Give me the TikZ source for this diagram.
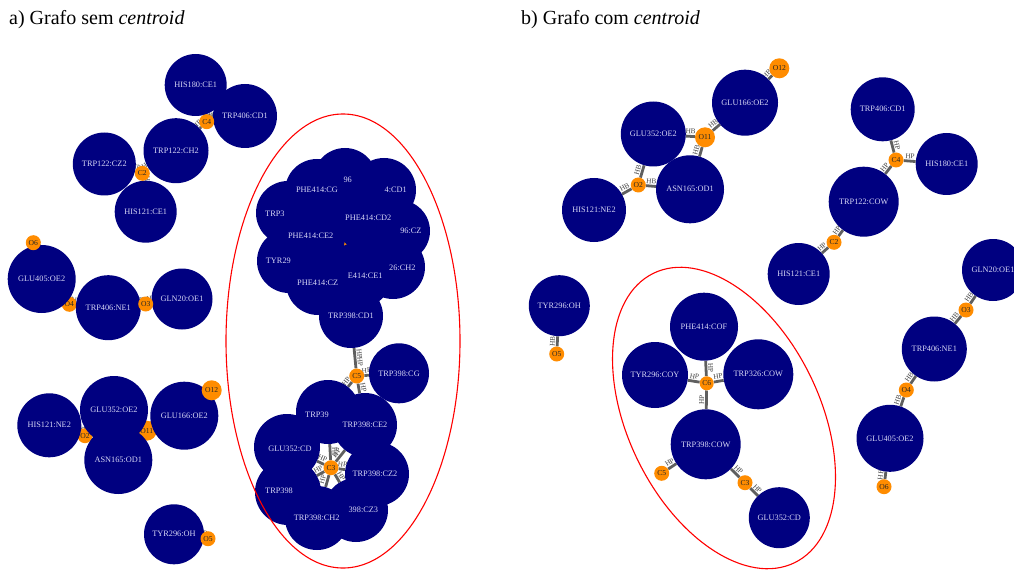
\documentclass[tikz,border=0pt]{standalone}
\usepackage{fontspec}
\setmainfont{Liberation Serif}
\pgfdeclarelayer{edgelayer}
\pgfdeclarelayer{under}
\pgfdeclarelayer{over}
\pgfsetlayers{edgelayer,under,main,over}
\definecolor{atomblue}{RGB}{0,0,128}
\definecolor{pseudo}{RGB}{255,140,0}
\definecolor{atomtext}{RGB}{215,215,245}
\definecolor{bondgray}{RGB}{95,95,95}
\definecolor{ringred}{RGB}{255,0,0}
\tikzset{
  atom/.style={circle, fill=atomblue, inner sep=0pt, text=atomtext,
    font=\fontsize{8.3}{9}\selectfont},
  pc/.style={circle, fill=pseudo, inner sep=0pt, minimum size=15,
    font=\fontsize{7.6}{8}\selectfont, text=black!85},
  pcbig/.style={pc, minimum size=20},
  bond/.style={draw=bondgray, line width=2.8pt},
  blab/.style={font=\fontsize{7.2}{7.2}\selectfont, text=black!75, sloped, above, inner sep=1pt},
  frag/.style={text=atomtext, font=\fontsize{8.3}{9}\selectfont, inner sep=0pt},
  cluster/.style={draw=ringred, line width=1.1pt},
  title/.style={anchor=base west, inner sep=0pt, font=\fontsize{20}{22}\selectfont},
}
\begin{document}
\begin{tikzpicture}[x=1pt,y=-1pt]
\useasboundingbox (0,0) rectangle (1014,572);

% titles
\node[title] (titleA) at (9,25) {a) Grafo sem \textit{centroid}};
\node[title] (titleB) at (521,25) {b) Grafo com \textit{centroid}};

% ================= panel a =================
\begin{pgfonlayer}{under}
  \node[pc] (a-o4) at (69.3,304.3) {O4};
  \node[pc] (a-o2) at (85,435.7) {O2};
  \node[pcbig] (a-o11) at (146.7,430.7) {O11};
  \node[pc, minimum size=16] (a-c6) at (343,245) {};
\end{pgfonlayer}

\node[atom, minimum size=62] (a-his180) at (195.7,85) {HIS180:CE1};
\node[atom, minimum size=64] (a-trp406cd1) at (245,116) {TRP406:CD1};
\node[atom, minimum size=65] (a-trp122ch2) at (176,150.7) {TRP122:CH2};
\node[atom, minimum size=63] (a-trp122cz2) at (104.3,164) {TRP122:CZ2};
\node[atom, minimum size=62] (a-his121ce1) at (145.7,211.7) {HIS121:CE1};
\node[atom, minimum size=68] (a-glu405) at (41.7,279) {GLU405:OE2};
\node[atom, minimum size=65] (a-trp406ne1) at (108.3,307.7) {TRP406:NE1};
\node[atom, minimum size=61] (a-gln20) at (182,299) {GLN20:OE1};
\node[atom, minimum size=64] (a-his121ne2) at (49.3,425.3) {HIS121:NE2};
\node[atom, minimum size=68] (a-glu352oe2) at (114,410) {GLU352:OE2};
\node[atom, minimum size=68] (a-asn165) at (118.3,460) {ASN165:OD1};
\node[atom, minimum size=68] (a-glu166) at (184.3,415.7) {GLU166:OE2};
\node[atom, minimum size=60] (a-tyr296oh) at (174,534.3) {TYR296:OH};

% aromatic cluster around the hidden centroid C6
\node[atom, minimum size=64] (a-b1) at (317,191) {};
\node[atom, minimum size=64] (a-b2) at (345,180) {};
\node[atom, minimum size=64] (a-b3) at (384,190) {};
\node[atom, minimum size=64] (a-b4) at (288,213) {};
\node[atom, minimum size=66] (a-b5) at (368,219) {};
\node[atom, minimum size=62] (a-b6) at (399,231) {};
\node[atom, minimum size=66] (a-b7) at (312,237) {};
\node[atom, minimum size=64] (a-b8) at (289,261) {};
\node[atom, minimum size=64] (a-b9) at (393,267) {};
\node[atom, minimum size=66] (a-b10) at (359,275) {};
\node[atom, minimum size=64] (a-b11) at (318,283) {};
\node[atom, minimum size=64] (a-b12) at (351,316) {};
\node[atom, minimum size=60] (a-trp398cg) at (399,373.3) {TRP398:CG};

% TRP398 ring cluster around C3
\node[atom, minimum size=64] (a-l1) at (328,412) {};
\node[atom, minimum size=64] (a-l2) at (365,425) {};
\node[atom, minimum size=66] (a-l3) at (287,447) {};
\node[atom, minimum size=64] (a-l4) at (377,474) {};
\node[atom, minimum size=66] (a-l5) at (288,492) {};
\node[atom, minimum size=64] (a-l6) at (356,510) {};
\node[atom, minimum size=64] (a-l7) at (317,518) {};

\begin{pgfonlayer}{over}
  \node[pc] (a-c4) at (206.7,121.7) {C4};
  \node[pc] (a-c2) at (142.3,173.3) {C2};
  \node[pc] (a-o6) at (33.3,242.7) {O6};
  \node[pc] (a-o3) at (145.7,304) {O3};
  \node[pcbig] (a-o12) at (211.7,390.3) {O12};
  \node[pc] (a-o5) at (208,538.7) {O5};
  \node[pc] (a-c5) at (356.7,376) {C5};
  \node[pc] (a-c3) at (331,467.7) {C3};
  % labels left visible between overlapping atoms
  \node[frag] (f1) at (317,190) {PHE414:CG};
  \node[frag] (f2) at (347.7,179.5) {96};
  \node[frag, anchor=east] (f3) at (407,190) {4:CD1};
  \node[frag, anchor=west] (f4) at (265,213.3) {TRP3};
  \node[frag] (f5) at (368.3,218.3) {PHE414:CD2};
  \node[frag, anchor=east] (f6) at (421.7,230.7) {96:CZ};
  \node[frag] (f7) at (310.7,235.7) {PHE414:CE2};
  \node[frag, anchor=west] (f8) at (265.7,260.7) {TYR29};
  \node[frag, anchor=east] (f9) at (415.7,267.7) {26:CH2};
  \node[frag, anchor=east] (f10) at (382.7,276) {E414:CE1};
  \node[frag] (f11) at (317.7,283.3) {PHE414:CZ};
  \node[frag] (f12) at (351,315.7) {TRP398:CD1};
  \node[frag, anchor=west] (f13) at (305,414.3) {TRP39};
  \node[frag] (f14) at (365,425) {TRP398:CE2};
  \node[frag] (f15) at (290,449) {GLU352:CD};
  \node[frag] (f16) at (375,473.3) {TRP398:CZ2};
  \node[frag, anchor=west] (f17) at (265,490.7) {TRP398};
  \node[frag, anchor=east] (f18) at (378.3,510) {398:CZ3};
  \node[frag] (f19) at (316.7,517.3) {TRP398:CH2};
\end{pgfonlayer}

\draw[cluster] (343,341) ellipse [x radius=117, y radius=227];

\begin{pgfonlayer}{edgelayer}
  \draw[bond] (a-c4) -- node[blab]{HP} (a-his180);
  \draw[bond] (a-c4) -- node[blab]{HP} (a-trp406cd1);
  \draw[bond] (a-c4) -- node[blab]{HP} (a-trp122ch2);
  \draw[bond] (a-c2) -- node[blab]{HP} (a-trp122cz2);
  \draw[bond] (a-c2) -- node[blab]{HP} (a-trp122ch2);
  \draw[bond] (a-c2) -- node[blab]{HP} (a-his121ce1);
  \draw[bond] (a-o6) -- node[blab]{HB} (a-glu405);
  \draw[bond] (a-o4) -- node[blab]{HB} (a-glu405);
  \draw[bond] (a-o4) -- node[blab]{HB} (a-trp406ne1);
  \draw[bond] (a-o3) -- node[blab]{HB} (a-trp406ne1);
  \draw[bond] (a-o3) -- node[blab]{HB} (a-gln20);
  \draw[bond] (a-o2) -- node[blab]{HB} (a-his121ne2);
  \draw[bond] (a-o2) -- node[blab]{HB} (a-glu352oe2);
  \draw[bond] (a-o2) -- node[blab]{HB} (a-asn165);
  \draw[bond] (a-o11) -- node[blab]{HB} (a-glu352oe2);
  \draw[bond] (a-o11) -- node[blab]{HB} (a-asn165);
  \draw[bond] (a-o11) -- node[blab]{HB} (a-glu166);
  \draw[bond] (a-o12) -- node[blab]{HB} (a-glu166);
  \draw[bond] (a-o5) -- node[blab]{HB} (a-tyr296oh);
  \draw[bond] (a-c5) -- node[blab, pos=0.3]{HP} node[blab, pos=0.7]{HP} (a-b12);
  \draw[bond] (a-c5) -- node[blab]{HP} (a-trp398cg);
  \draw[bond] (a-c5) -- node[blab]{HP} (a-l2);
  \draw[bond] (a-c5) -- node[blab]{HP} (a-l1);
  \foreach \n in {1,...,7}
    \draw[bond] (a-c3) -- node[blab]{HP} (a-l\n);
\end{pgfonlayer}

% ================= panel b =================
\node[atom, minimum size=66] (b-glu166) at (745,102.7) {GLU166:OE2};
\node[atom, minimum size=65] (b-glu352oe2) at (653.3,134) {GLU352:OE2};
\node[atom, minimum size=68] (b-asn165) at (690,189.3) {ASN165:OD1};
\node[atom, minimum size=64] (b-his121ne2) at (594,210) {HIS121:NE2};
\node[atom, minimum size=64] (b-trp406cd1) at (882.7,109.3) {TRP406:CD1};
\node[atom, minimum size=62] (b-his180) at (946.7,164) {HIS180:CE1};
\node[atom, minimum size=70] (b-trp122cow) at (863.7,201.7) {TRP122:COW};
\node[atom, minimum size=62] (b-his121ce1) at (798.7,274) {HIS121:CE1};
\node[atom, minimum size=62] (b-gln20) at (993,270) {GLN20:OE1};
\node[atom, minimum size=65] (b-trp406ne1) at (934.3,349) {TRP406:NE1};
\node[atom, minimum size=67] (b-glu405) at (890,438.3) {GLU405:OE2};
\node[atom, minimum size=61] (b-tyr296oh) at (559.3,305.7) {TYR296:OH};
\node[atom, minimum size=68] (b-phe414) at (704,326.7) {PHE414:COF};
\node[atom, minimum size=66] (b-tyr296coy) at (655,375) {TYR296:COY};
\node[atom, minimum size=70] (b-trp326) at (758.3,374.3) {TRP326:COW};
\node[atom, minimum size=70] (b-trp398) at (705.7,444.3) {TRP398:COW};
\node[atom, minimum size=61] (b-glu352cd) at (779.3,517.7) {GLU352:CD};

\node[pcbig] (b-o12) at (779.3,68.3) {O12};
\node[pcbig] (b-o11) at (705,137.3) {O11};
\node[pc] (b-o2) at (638.3,185) {O2};
\node[pc] (b-c4) at (896,160) {C4};
\node[pc] (b-c2) at (834,242.3) {C2};
\node[pc] (b-o3) at (966,310) {O3};
\node[pc] (b-o4) at (906.3,390) {O4};
\node[pc] (b-o6) at (884,486.7) {O6};
\node[pc] (b-o5) at (556.7,354) {O5};
\node[pc, minimum size=14] (b-c6) at (706.7,383.3) {C6};
\node[pc] (b-c5) at (661.7,473.3) {C5};
\node[pc] (b-c3) at (745,482.7) {C3};

\draw[cluster, rotate around={-64:(724,418)}] (724,418) ellipse [x radius=161, y radius=96];

\begin{pgfonlayer}{edgelayer}
  \draw[bond] (b-o12) -- node[blab]{HB} (b-glu166);
  \draw[bond] (b-o11) -- node[blab]{HB} (b-glu166);
  \draw[bond] (b-o11) -- node[blab]{HB} (b-glu352oe2);
  \draw[bond] (b-o11) -- node[blab]{HB} (b-asn165);
  \draw[bond] (b-o2) -- node[blab]{HB} (b-glu352oe2);
  \draw[bond] (b-o2) -- node[blab]{HB} (b-asn165);
  \draw[bond] (b-o2) -- node[blab]{HB} (b-his121ne2);
  \draw[bond] (b-c4) -- node[blab]{HP} (b-trp406cd1);
  \draw[bond] (b-c4) -- node[blab]{HP} (b-his180);
  \draw[bond] (b-c4) -- node[blab]{HP} (b-trp122cow);
  \draw[bond] (b-c2) -- node[blab]{HP} (b-trp122cow);
  \draw[bond] (b-c2) -- node[blab]{HP} (b-his121ce1);
  \draw[bond] (b-o3) -- node[blab]{HB} (b-gln20);
  \draw[bond] (b-o3) -- node[blab]{HB} (b-trp406ne1);
  \draw[bond] (b-o4) -- node[blab]{HB} (b-trp406ne1);
  \draw[bond] (b-o4) -- node[blab]{HB} (b-glu405);
  \draw[bond] (b-o6) -- node[blab]{HB} (b-glu405);
  \draw[bond] (b-o5) -- node[blab]{HB} (b-tyr296oh);
  \draw[bond] (b-c6) -- node[blab]{HP} (b-phe414);
  \draw[bond] (b-c6) -- node[blab]{HP} (b-tyr296coy);
  \draw[bond] (b-c6) -- node[blab]{HP} (b-trp326);
  \draw[bond] (b-c6) -- node[blab]{HP} (b-trp398);
  \draw[bond] (b-c5) -- node[blab]{HP} (b-trp398);
  \draw[bond] (b-c3) -- node[blab]{HP} (b-trp398);
  \draw[bond] (b-c3) -- node[blab]{HP} (b-glu352cd);
\end{pgfonlayer}
\end{tikzpicture}
\end{document}
